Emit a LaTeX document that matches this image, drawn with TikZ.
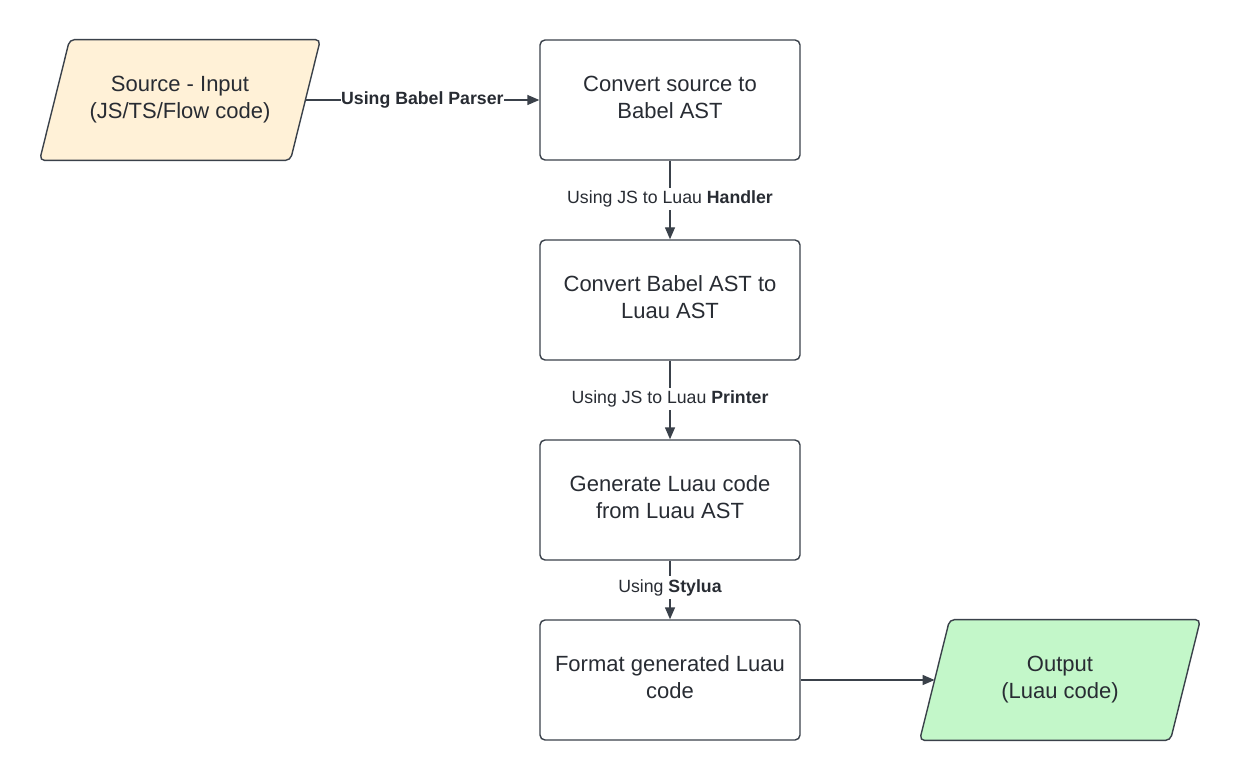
\documentclass[tikz,border=0pt]{standalone}
\usepackage{fontspec}
\setmainfont{Liberation Sans}
\usetikzlibrary{arrows.meta}
\definecolor{strokec}{HTML}{3A414A}
\definecolor{textc}{HTML}{282C33}
\definecolor{inputfill}{HTML}{FFF1D7}
\definecolor{outputfill}{HTML}{C3F7C9}
\begin{document}
\begin{tikzpicture}[x=0.5pt,y=-0.5pt,
  every node/.style={text=textc},
  procbox/.style={draw=strokec, line width=0.7pt, rounded corners=2.5pt, fill=white,
    minimum width=130pt, minimum height=60pt},
  iobox/.style={minimum width=125pt, minimum height=60pt, inner sep=0pt},
  boxtext/.style={align=center, inner sep=0pt, yshift=1.4pt, font=\fontsize{11}{13.6}\selectfont},
  iotext/.style={boxtext, yshift=-1.1pt},
  flow/.style={draw=strokec, line width=0.7pt, -{Triangle[length=6pt,width=5pt]}},
  lbl/.style={fill=white, inner sep=1.5pt, font=\fontsize{8.85}{10}\selectfont},
]
\useasboundingbox (0,0) rectangle (1240,780);

% input parallelogram
\node[iobox] (in) at (180,100) {};
\draw[draw=strokec, line width=0.7pt, fill=inputfill, rounded corners=2.5pt]
  ([xshift=7.5pt]in.north east) -- ([xshift=-7.5pt]in.south east)
  -- ([xshift=-7.5pt]in.south west) -- ([xshift=7.5pt]in.north west) -- cycle;
\node[iotext] (intext) at (in.center) {Source - Input\\(JS/TS/Flow code)};

\node[procbox] (b1) at (670,100) {};
\node[boxtext] (t1) at (b1.center) {Convert source to\\Babel AST};
\node[procbox] (b2) at (670,300) {};
\node[boxtext] (t2) at (b2.center) {Convert Babel AST to\\Luau AST};
\node[procbox] (b3) at (670,500) {};
\node[boxtext] (t3) at (b3.center) {Generate Luau code\\from Luau AST};
\node[procbox] (b4) at (670,680) {};
\node[boxtext] (t4) at (b4.center) {Format generated Luau\\code};

% output parallelogram
\node[iobox] (out) at (1060,680) {};
\draw[draw=strokec, line width=0.7pt, fill=outputfill, rounded corners=2.5pt]
  ([xshift=7.5pt]out.north east) -- ([xshift=-7.5pt]out.south east)
  -- ([xshift=-7.5pt]out.south west) -- ([xshift=7.5pt]out.north west) -- cycle;
\node[iotext] (outtext) at (out.center) {Output\\(Luau code)};

\draw[flow] (in.east) -- node[lbl, inner xsep=0.3pt, font=\fontsize{8.85}{10}\selectfont\bfseries] {Using Babel Parser} (b1.west);
\draw[flow] (b1.south) -- node[lbl, pos=0.485] {Using JS to Luau \textbf{Handler}} (b2.north);
\draw[flow] (b2.south) -- node[lbl, pos=0.485] {Using JS to Luau \textbf{Printer}} (b3.north);
\draw[flow] (b3.south) -- node[lbl, pos=0.46] {Using \textbf{Stylua}} (b4.north);
\draw[flow] (b4.east) -- (out.west);
\end{tikzpicture}
\end{document}
